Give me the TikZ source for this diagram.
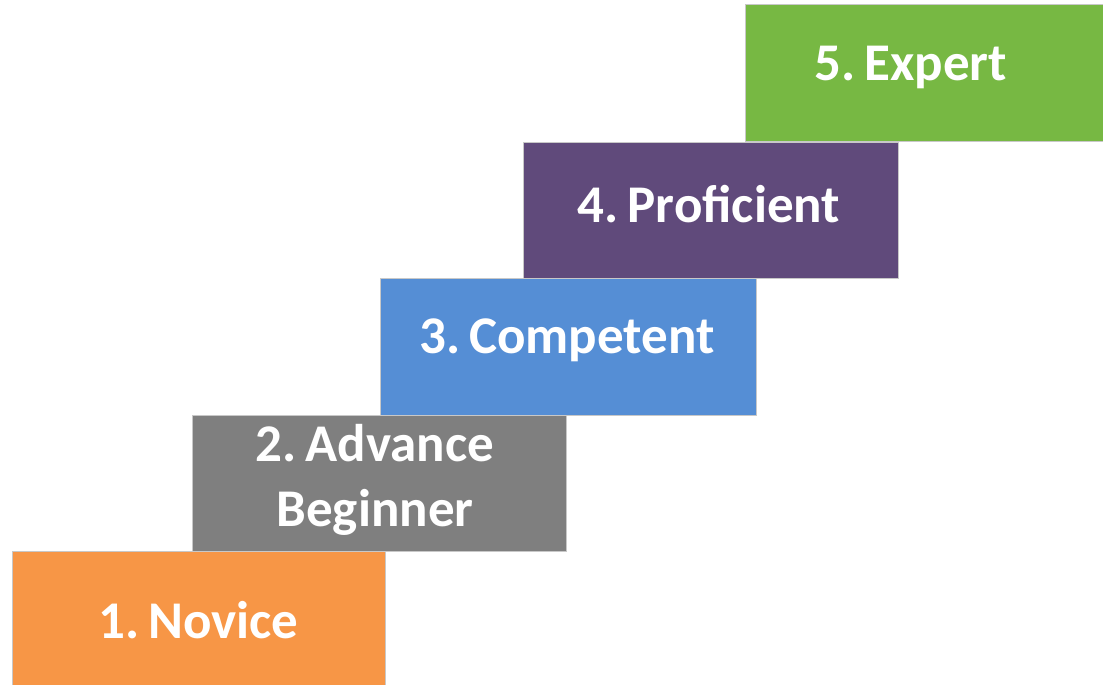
\documentclass[tikz,border=0pt]{standalone}
\usepackage{fontspec}
\setmainfont{Carlito}
\definecolor{cOrange}{HTML}{F79646}
\definecolor{cGray}{HTML}{7F7F7F}
\definecolor{cBlue}{HTML}{558ED5}
\definecolor{cPurple}{HTML}{604A7B}
\definecolor{cGreen}{HTML}{77B843}
\definecolor{cEdge}{HTML}{C8C8C8}
\begin{document}
\begin{tikzpicture}[x=1pt,y=-1pt,
  stepbox/.style={draw=cEdge, line width=0.8pt, inner sep=0pt},
  steplabel/.style={text=white, font=\fontsize{53}{65}\selectfont\bfseries, align=center}]
\useasboundingbox (0,0) rectangle (1103,685);
\path[stepbox, fill=cOrange] (12,551) rectangle (385,690);
\path[stepbox, fill=cGray] (192,415) rectangle (566,551);
\path[stepbox, fill=cBlue] (380,278) rectangle (756,415);
\path[stepbox, fill=cPurple] (523,142) rectangle (898,278);
\path[stepbox, fill=cGreen] (745,4) rectangle (1110,141);
\node[steplabel] (n1) at (198.5,620) {1.\,Novice};
\node[steplabel] (n2) at (375,480) {2.\,Advance\\Beginner};
\node[steplabel] (n3) at (567,340) {3.\,Competent};
\node[steplabel] (n4) at (709,204) {4.\,Proficient};
\node[steplabel] (n5) at (911,67) {5.\,Expert};
\end{tikzpicture}
\end{document}
